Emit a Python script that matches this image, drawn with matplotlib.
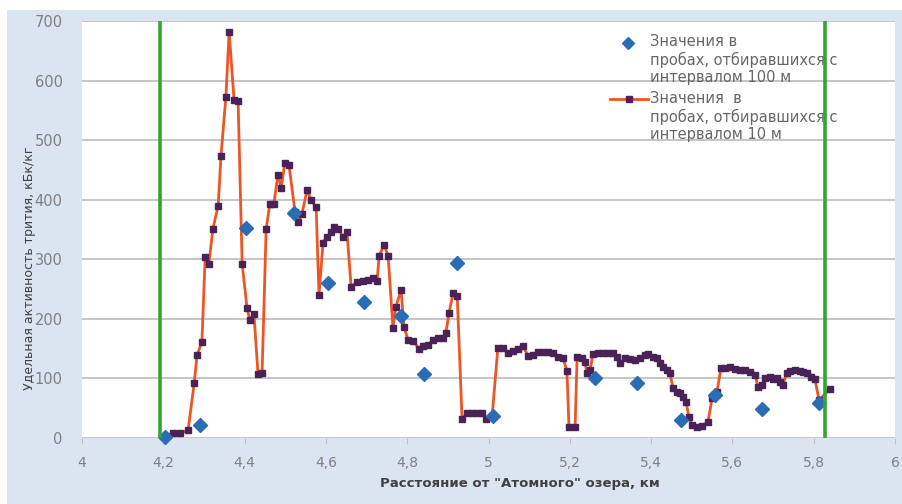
import matplotlib
matplotlib.use("Agg")
import matplotlib.pyplot as plt
from matplotlib.patches import Rectangle
from matplotlib.lines import Line2D

# Samples taken every 10 m: distance (km) and tritium activity (kBq/kg)
dist_10m = [4.207, 4.224, 4.241, 4.261, 4.276, 4.283, 4.295, 4.303, 4.312, 4.322,
            4.335, 4.342, 4.354, 4.362, 4.374, 4.384, 4.394, 4.406, 4.413, 4.423,
            4.433, 4.443, 4.453, 4.462, 4.472, 4.482, 4.490, 4.499, 4.509, 4.524,
            4.531, 4.541, 4.554, 4.563, 4.576, 4.583, 4.593, 4.603, 4.613, 4.620,
            4.630, 4.642, 4.652, 4.662, 4.677, 4.691, 4.704, 4.716, 4.726, 4.731,
            4.743, 4.753, 4.765, 4.772, 4.785, 4.792, 4.802, 4.814, 4.829, 4.839,
            4.851, 4.863, 4.876, 4.888, 4.895, 4.903, 4.913, 4.923, 4.935, 4.947,
            4.959, 4.972, 4.984, 4.994, 5.009, 5.023, 5.036, 5.048, 5.060, 5.073,
            5.085, 5.097, 5.109, 5.122, 5.134, 5.146, 5.159, 5.171, 5.183, 5.193,
            5.198, 5.213, 5.218, 5.230, 5.237, 5.242, 5.250, 5.257, 5.269, 5.282,
            5.294, 5.306, 5.316, 5.324, 5.336, 5.348, 5.360, 5.373, 5.385, 5.392,
            5.405, 5.415, 5.422, 5.429, 5.439, 5.446, 5.454, 5.464, 5.471, 5.478,
            5.486, 5.493, 5.501, 5.513, 5.525, 5.540, 5.550, 5.562, 5.572, 5.582,
            5.594, 5.606, 5.619, 5.631, 5.643, 5.656, 5.663, 5.673, 5.680, 5.692,
            5.700, 5.710, 5.717, 5.724, 5.734, 5.742, 5.754, 5.766, 5.774, 5.784,
            5.793, 5.803, 5.813, 5.840]
act_10m = [3, 8, 8, 13, 92, 139, 161, 304, 292, 351,
           390, 474, 573, 682, 568, 566, 292, 218, 198, 208,
           108, 109, 351, 392, 393, 442, 420, 462, 459, 380,
           363, 376, 417, 400, 387, 240, 328, 338, 346, 355,
           351, 338, 345, 254, 262, 264, 266, 269, 264, 306,
           324, 306, 185, 220, 249, 187, 165, 163, 150, 155,
           156, 165, 168, 168, 176, 210, 244, 239, 32, 42,
           42, 42, 42, 32, 37, 151, 151, 143, 146, 150,
           155, 138, 139, 145, 145, 145, 143, 136, 134, 113,
           18, 18, 136, 134, 128, 109, 114, 141, 143, 143,
           143, 143, 136, 126, 134, 133, 131, 134, 139, 141,
           136, 134, 126, 119, 114, 109, 84, 77, 76, 69,
           61, 35, 22, 18, 20, 27, 67, 77, 118, 118,
           119, 116, 114, 114, 111, 106, 86, 89, 101, 103,
           99, 101, 94, 89, 109, 113, 114, 113, 111, 109,
           103, 99, 64, 82]

# Samples taken every 100 m
dist_100m = [4.204, 4.290, 4.403, 4.522, 4.605, 4.694, 4.785, 4.841, 4.923,
             5.011, 5.262, 5.365, 5.474, 5.557, 5.673, 5.813]
act_100m = [2, 22, 353, 378, 261, 229, 205, 108, 294,
            37, 101, 92, 30, 72, 49, 59]

# Boundaries of the studied section, km
boundaries = [4.192, 5.828]

x_ticks = [4, 4.2, 4.4, 4.6, 4.8, 5, 5.2, 5.4, 5.6, 5.8, 6]
x_tick_labels = ["4", "4,2", "4,4", "4,6", "4,8", "5", "5,2", "5,4", "5,6", "5,8", "6"]
y_ticks = [0, 100, 200, 300, 400, 500, 600, 700]

label_100m = "Значения в\nпробах, отбиравшихся с\nинтервалом 100 м"
label_10m = "Значения  в\nпробах, отбиравшихся с\nинтервалом 10 м"
x_title = "Расстояние от \"Атомного\" озера, км"
y_title = "Удельная активность трития, кБк/кг"

W, H = 903, 504
fig = plt.figure(figsize=(W / 100, H / 100), dpi=100)
fig.patch.set_facecolor("white")
fig.add_artist(Rectangle((7 / W, 0), 1 - 7 / W, 1 - 10 / H,
                         transform=fig.transFigure, facecolor="#dbe5f1",
                         edgecolor="none", zorder=0))

ax = fig.add_axes([82 / W, 1 - 438 / H, (895 - 82) / W, (438 - 21) / H])
ax.set_facecolor("white")
ax.set_xlim(4, 6)
ax.set_ylim(0, 700)

ax.set_yticks(y_ticks)
ax.set_xticks(x_ticks)
ax.set_xticklabels(x_tick_labels)
ax.grid(axis="y", color="#c0c0c0", linewidth=1.3, zorder=1)
ax.set_axisbelow(True)
for s in ax.spines.values():
    s.set_visible(False)
ax.tick_params(axis="y", length=0, pad=14, labelsize=10.5, labelcolor="#7f7f7f")
ax.tick_params(axis="x", length=4, color="#c0c0c0", pad=9, labelsize=10,
               labelcolor="#7f7f7f")

red = "#ee5524"
mark = "#4a2258"
blue = "#2a6db5"
green = "#33a532"

ax.plot(dist_10m, act_10m, color=red, linewidth=2.0, marker="s", markersize=3.8,
        markerfacecolor=mark, markeredgecolor=mark, zorder=3, clip_on=False)
ax.plot(dist_100m, act_100m, linestyle="none", marker="D", markersize=7,
        markerfacecolor=blue, markeredgecolor=blue, zorder=4, clip_on=False)

for b in boundaries:
    ax.axvline(b, color=green, linewidth=2.6, zorder=6)

# Legend drawn in axes fraction so the boundary line runs across it
tr = ax.transAxes
def ax_pt(px, py):
    return ((px - 82) / (895 - 82), (438 - py) / (438 - 21))

lx, ly = ax_pt(628, 43)
ax.add_line(Line2D([lx], [ly], transform=tr, linestyle="none", marker="D",
                   markersize=6, markerfacecolor=blue, markeredgecolor=blue, zorder=5))
x0, _ = ax_pt(610, 0)
x1, _ = ax_pt(648, 0)
_, ly2 = ax_pt(0, 99)
ax.add_line(Line2D([x0, x1], [ly2, ly2], transform=tr, color=red, linewidth=2.0,
                   zorder=5))
ax.add_line(Line2D([(x0 + x1) / 2], [ly2], transform=tr, linestyle="none",
                   marker="s", markersize=3.8, markerfacecolor=mark,
                   markeredgecolor=mark, zorder=5))
tx, ty1 = ax_pt(650, 34)
_, ty2 = ax_pt(0, 91)
ax.text(tx, ty1, label_100m, transform=tr, ha="left", va="top", fontsize=10.5,
        color="#666666", linespacing=1.2, zorder=5)
ax.text(tx, ty2, label_10m, transform=tr, ha="left", va="top", fontsize=10.5,
        color="#666666", linespacing=1.2, zorder=5)

fig.text(520 / W, 1 - 483 / H, x_title, ha="center", va="center", fontsize=9.5,
         fontweight="bold", color="#404040")
fig.text(30 / W, 1 - 268 / H, y_title, ha="center", va="center", rotation=90,
         fontsize=9, color="#404040")

fig.savefig("out.png", dpi=100)
